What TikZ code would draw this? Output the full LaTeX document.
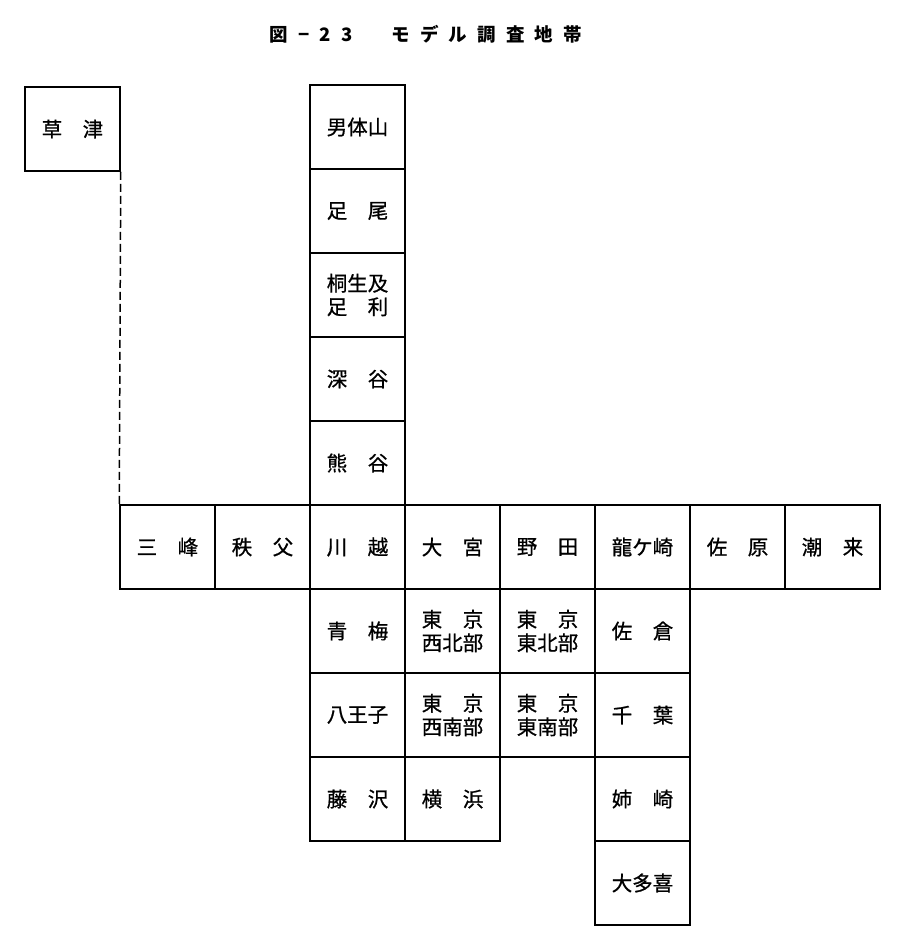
\documentclass[tikz,border=0pt]{standalone}
\usepackage{fontspec}
\usepackage{tikz}
\newfontfamily\jpfont[FakeBold=0.8]{Noto Sans CJK JP}
\newfontfamily\jptitle[LetterSpace=55]{Noto Sans CJK JP}

\tikzset{
  cell/.style={draw, line width=1.5pt, minimum width=95pt, minimum height=84pt,
    inner sep=0pt, align=center, font=\jpfont\fontsize{20.5}{23.5}\selectfont}
}

\begin{document}
\begin{tikzpicture}[x=1pt, y=-1pt]

  \useasboundingbox (0, 0) rectangle (903, 948);

  \node[font=\jptitle\bfseries\fontsize{18.5}{22}\selectfont] (title) at (426, 34)
    {図−23　モデル調査地帯};

  \foreach \nm/\cx/\cy/\txt in {
      kusatsu/72.5/129/草　津,
      nantaisan/357.5/127/男体山, ashio/357.5/211/足　尾,
      kiryu/357.5/295/{桐生及\\足　利}, fukaya/357.5/379/深　谷,
      kumagaya/357.5/463/熊　谷,
      mitsumine/167.5/547/三　峰, chichibu/262.5/547/秩　父,
      kawagoe/357.5/547/川　越, omiya/452.5/547/大　宮,
      noda/547.5/547/野　田, ryugasaki/642.5/547/龍ケ崎,
      sawara/737.5/547/佐　原, itako/832.5/547/潮　来,
      ome/357.5/631/青　梅, hachioji/357.5/715/八王子,
      fujisawa/357.5/799/藤　沢,
      tokyonw/452.5/631/{東　京\\西北部}, tokyosw/452.5/715/{東　京\\西南部},
      yokohama/452.5/799/横　浜,
      tokyone/547.5/631/{東　京\\東北部}, tokyose/547.5/715/{東　京\\東南部},
      sakura/642.5/631/佐　倉, chiba/642.5/715/千　葉,
      anegasaki/642.5/799/姉　崎, otaki/642.5/883/大多喜} {
    \node[cell] (\nm) at (\cx, \cy) {\txt};
  }

  \draw[line width=1.5pt, dash pattern=on 8pt off 4pt]
    (kusatsu.south east) -- (mitsumine.north west);

\end{tikzpicture}
\end{document}
